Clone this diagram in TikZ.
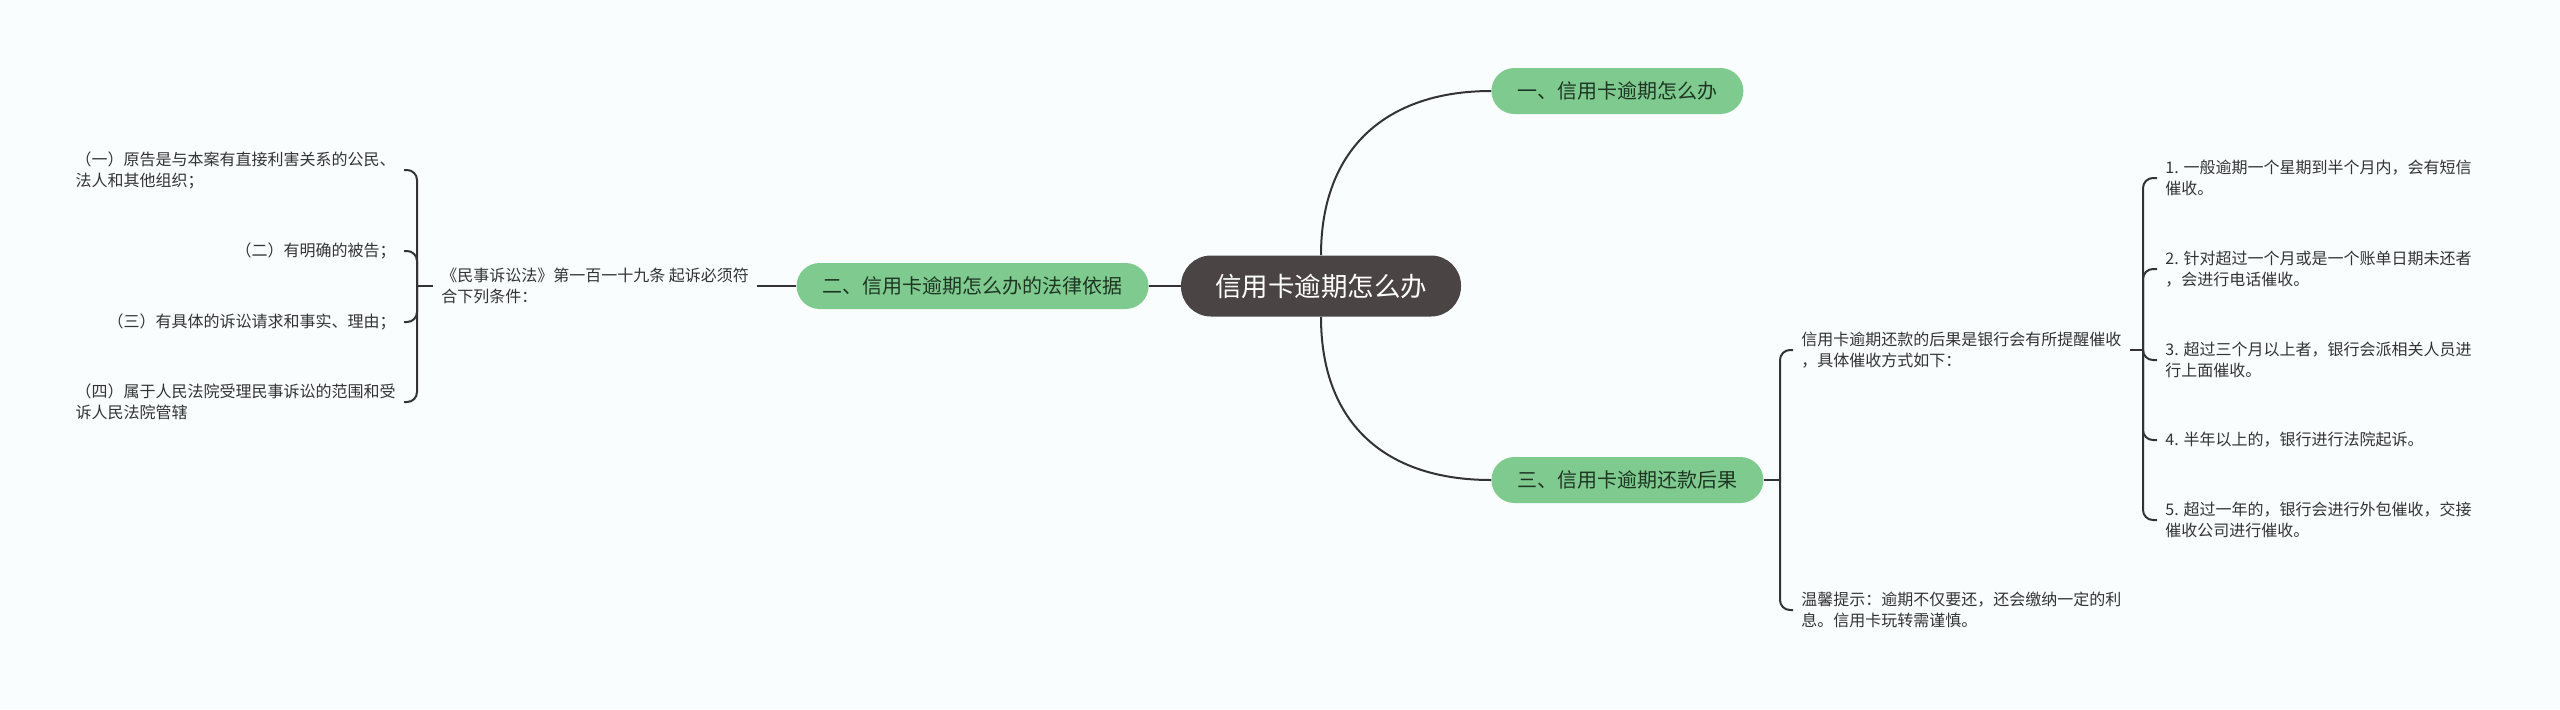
\documentclass[tikz,border=0pt]{standalone}
\usepackage{fontspec}
\setmainfont{Noto Sans CJK SC}
\usepackage{xcolor}
\usetikzlibrary{calc, positioning, backgrounds}

\definecolor{bggray}{HTML}{FAFDFE}
\definecolor{leafgreen}{HTML}{7FCB8F}
\definecolor{rootgray}{HTML}{4A4544}
\definecolor{linegray}{HTML}{333333}
\definecolor{textgray}{HTML}{333333}
\definecolor{greentext}{HTML}{1F3524}

\begin{document}
\begin{tikzpicture}[x=0.5pt,y=-0.5pt,
                    link/.style={draw=linegray,line width=1pt,rounded corners=5pt},
                    main node/.style={rounded corners=15pt,fill=rootgray,text=white,font=\fontsize{13.25}{15}\selectfont,minimum height=30.5pt,inner xsep=17pt},
                    branch node/.style={rounded corners=11.5pt,fill=leafgreen,text=greentext,font=\fontsize{10}{12}\selectfont,minimum height=23pt,inner xsep=13pt},
                    leaf node/.style={align=left,text=textgray,font=\fontsize{8}{10.5}\selectfont,inner sep=4pt}]

   \fill[bggray] (0,0) rectangle (2560,709);

%Root and main branches
   \node[main node] (root) at (1321,286) {信用卡逾期怎么办};
   \node[branch node,anchor=west] (b1) at (1491,91) {一、信用卡逾期怎么办};
   \node[branch node,anchor=east] (b2) at (1149,286) {二、信用卡逾期怎么办的法律依据};
   \node[branch node,anchor=west] (b3) at (1491,480) {三、信用卡逾期还款后果};

   \draw[link] (root.north) .. controls (1321,148) and (1387,91) .. (b1.west);
   \draw[link] (root.south) .. controls (1321,425) and (1387,480) .. (b3.west);
   \draw[link] (root.west) -- (b2.east);

%Left side: legal basis
   \node[leaf node,anchor=west] (law) at (433,286) {《民事诉讼法》第一百一十九条 起诉必须符\\合下列条件：};
   \draw[link] (b2.west) -- (law.east);

   \node[leaf node,anchor=east] (c1) at (404,170) {（一）原告是与本案有直接利害关系的公民、\\法人和其他组织；};
   \node[leaf node,anchor=east] (c2) at (404,251) {（二）有明确的被告；};
   \node[leaf node,anchor=east] (c3) at (404,322) {（三）有具体的诉讼请求和事实、理由；};
   \node[leaf node,anchor=east] (c4) at (404,402) {（四）属于人民法院受理民事诉讼的范围和受\\诉人民法院管辖};

   \coordinate (lj) at (417,286);
   \draw[link] (law.west) -- (lj);
   \foreach \i in {1,...,4}
      \draw[link] (lj) |- (c\i.east);

%Right side: consequences
   \node[leaf node,anchor=west] (r1) at (1793,350) {信用卡逾期还款的后果是银行会有所提醒催收\\，具体催收方式如下：};
   \node[leaf node,anchor=west] (r2) at (1793,610) {温馨提示：逾期不仅要还，还会缴纳一定的利\\息。信用卡玩转需谨慎。};

   \coordinate (mj) at (1780,480);
   \draw[link] (b3.east) -- (mj);
   \draw[link] (mj) |- (r1.west);
   \draw[link] (mj) |- (r2.west);

%Ways of collection
   \foreach \i/\y/\txt in {1/178/{1. 一般逾期一个星期到半个月内，会有短信\\催收。},
                           2/269/{2. 针对超过一个月或是一个账单日期未还者\\，会进行电话催收。},
                           3/360/{3. 超过三个月以上者，银行会派相关人员进\\行上面催收。},
                           4/440/{4. 半年以上的，银行进行法院起诉。},
                           5/520/{5. 超过一年的，银行会进行外包催收，交接\\催收公司进行催收。}}
      \node[leaf node,anchor=west] (s\i) at (2157,\y) {\txt};

   \coordinate (rj) at (2143,350);
   \draw[link] (r1.east) -- (rj);
   \foreach \i in {1,...,5}
      \draw[link] (rj) |- (s\i.west);

\end{tikzpicture}
\end{document}
